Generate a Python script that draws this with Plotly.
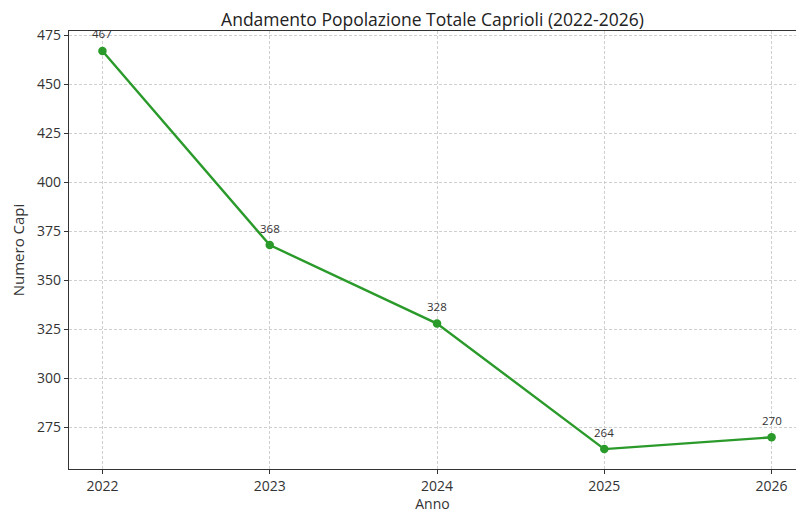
import plotly.graph_objects as go

anni = [2022, 2023, 2024, 2025, 2026]
capi = [467, 368, 328, 264, 270]
y_ticks = [275, 300, 325, 350, 375, 400, 425, 450, 475]

green = "#2a9a2a"
font_family = "Open Sans, Lato, sans-serif"

fig = go.Figure()
fig.add_trace(go.Scatter(
    x=anni, y=capi, mode="lines+markers",
    line=dict(color=green, width=2.4),
    marker=dict(color=green, size=8.5),
    hoverinfo="x+y", showlegend=False,
))

for a, c in zip(anni, capi):
    fig.add_annotation(x=a, y=c, text=str(c), showarrow=False,
                       yshift=17, font=dict(size=11.5, color="#333333", family=font_family))

fig.update_layout(
    width=796, height=513,
    margin=dict(l=69, r=0, t=31, b=44),
    paper_bgcolor="white", plot_bgcolor="white",
    title=dict(text="Andamento Popolazione Totale Caprioli (2022-2026)",
               x=0.5, xref="paper", xanchor="center", y=1, yref="paper", yanchor="bottom",
               pad=dict(b=5), font=dict(size=17.5, color="#222222", family=font_family)),
    font=dict(family=font_family, size=13, color="#333333"),
)
fig.update_xaxes(
    range=[2021.8, 2026.146], tickvals=anni, ticktext=[str(a) for a in anni],
    showline=True, linecolor="#333333", linewidth=1.2, mirror=True,
    ticks="outside", ticklen=4, tickcolor="#333333",
    showgrid=True, gridcolor="#cfcfcf", griddash="3px,2px", gridwidth=1,
    zeroline=False,
    title=dict(text="Anno", font=dict(size=14, family=font_family), standoff=2),
    tickfont=dict(size=14, family=font_family),
)
fig.update_yaxes(
    range=[253.85, 477.15], tickvals=y_ticks,
    showline=True, linecolor="#333333", linewidth=1.2,
    ticks="outside", ticklen=4, tickcolor="#333333",
    showgrid=True, gridcolor="#cfcfcf", griddash="3px,2px", gridwidth=1,
    zeroline=False,
    title=dict(text="Numero Capi", font=dict(size=15, family=font_family), standoff=8),
    tickfont=dict(size=14, family=font_family),
)

fig.write_html("out.html", config={"displayModeBar": False},
               post_script="document.body.style.margin='0';document.body.style.overflow='hidden';")
